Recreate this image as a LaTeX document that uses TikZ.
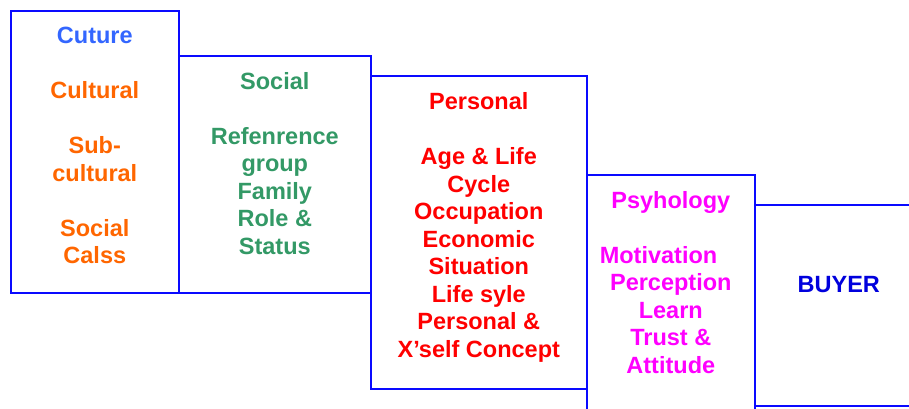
\documentclass[tikz,border=0pt]{standalone}
\usepackage{fontspec}
\setmainfont{Liberation Sans}
\usetikzlibrary{positioning}
\definecolor{edge}{HTML}{0A0AFF}
\definecolor{cultitle}{HTML}{3366FF}
\definecolor{cult}{HTML}{FF6600}
\definecolor{soc}{HTML}{339966}
\definecolor{pers}{HTML}{FF0000}
\definecolor{psy}{HTML}{FF00FF}
\definecolor{buy}{HTML}{0000DD}

\begin{document}
\begin{tikzpicture}[
  x=1pt, y=-1pt,
  every node/.append style={inner sep=0pt},
  box/.style={draw=edge, line width=1.6pt, anchor=north west},
  lbl/.style={anchor=north, align=center, font=\fontsize{23.5pt}{27.5pt}\selectfont\bfseries},
]
\clip (0,0) rectangle (909,409);
% the five stacked boxes (left -> right, stepping down)
\node[box, minimum width=168pt, minimum height=282pt] (culture) at (10,10) {};
\node[box, minimum width=192pt, minimum height=237pt] (social) at (178,55) {};
\node[box, minimum width=216pt, minimum height=313pt] (personal) at (370,75) {};
\node[box, minimum width=168pt, minimum height=280pt] (psych) at (586,174) {};
\node[box, minimum width=168pt, minimum height=201pt] (buyer) at (754,204) {};
% texts
\node[lbl, text=cult] (cultxt) at ([yshift=-17pt]culture.north)
  {\textcolor{cultitle}{Cuture}\\[27.5pt]Cultural\\[27.5pt]Sub-\\cultural\\[27.5pt]Social\\Calss};
\node[lbl, text=soc] (soctxt) at ([yshift=-17pt]social.north)
  {Social\\[27.5pt]Refenrence\\group\\Family\\Role \&\\Status};
\node[lbl, text=pers] (perstxt) at ([yshift=-17pt]personal.north)
  {Personal\\[28pt]Age \& Life\\Cycle\\Occupation\\Economic\\Situation\\Life syle\\Personal \&\\X’self Concept};
\node[lbl, text=psy] (psytxt) at ([yshift=-17pt]psych.north)
  {Psyhology\\[27.5pt]\hbox to 142pt{Motivation\hfil}\\Perception\\Learn\\Trust \&\\Attitude};
\node[lbl, text=buy] (buytxt) at ([yshift=-72pt]buyer.north) {BUYER};
\end{tikzpicture}
\end{document}
